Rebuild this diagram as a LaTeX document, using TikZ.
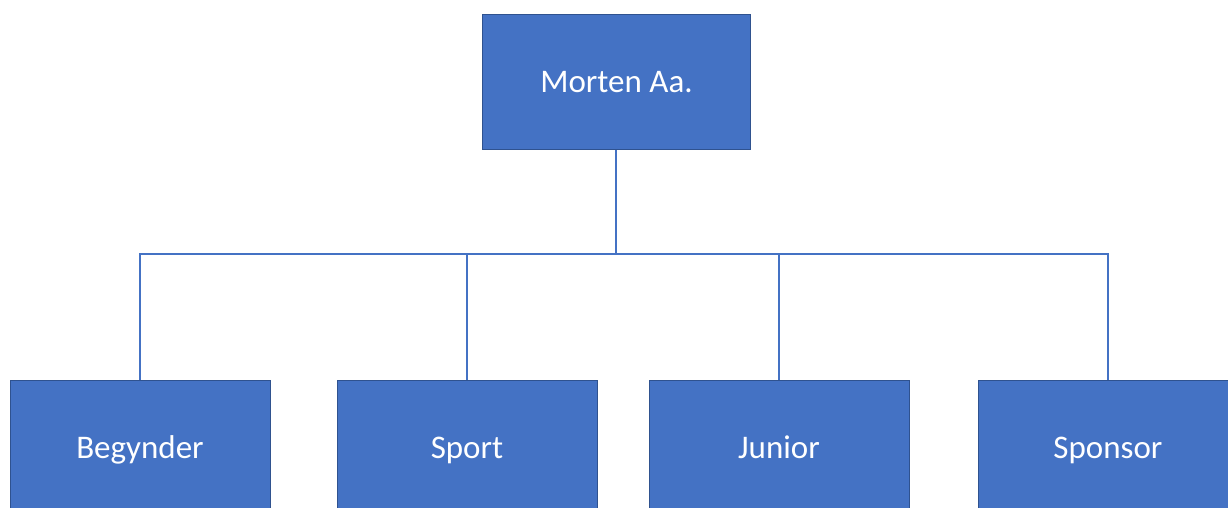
\documentclass[tikz,border=0pt]{standalone}
\usepackage{fontspec}
\setmainfont{Carlito}
\definecolor{boxfill}{HTML}{4472C4}
\definecolor{boxline}{HTML}{2F528F}
\definecolor{conn}{HTML}{4472C4}
\begin{document}
\begin{tikzpicture}[x=1pt,y=-1pt,
  orgbox/.style={draw=boxline, line width=1pt, fill=boxfill, text=white,
    minimum width=260pt, minimum height=134pt, inner sep=0pt,
    text height=23pt, text depth=1pt,
    font=\fontsize{33}{40}\selectfont},
  connector/.style={draw=conn, line width=1.5pt}]
\clip (0,0) rectangle (1228,508);
\fill[white] (0,0) rectangle (1228,508);
\node[orgbox, minimum width=268pt] (top) at (616.5,82) {Morten Aa.};
\node[orgbox] (b1) at (140,447) {Begynder};
\node[orgbox] (b2) at (467,447) {Sport};
\node[orgbox] (b3) at (779,447) {Junior};
\node[orgbox] (b4) at (1108,447) {Sponsor};
\coordinate (bus) at (616,254);
\draw[connector] (top.south -| bus) -- (bus);
\draw[connector] (bus) -| (b1.north);
\draw[connector] (bus) -| (b2.north);
\draw[connector] (bus) -| (b3.north);
\draw[connector] (bus) -| (b4.north);
\end{tikzpicture}
\end{document}
